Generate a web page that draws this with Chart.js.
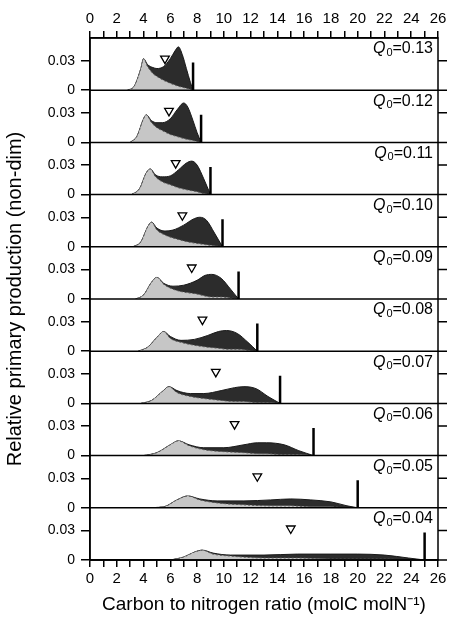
<!DOCTYPE html>
<html>
<head>
<meta charset="utf-8">
<script src="https://cdn.jsdelivr.net/npm/chart.js@4"></script>
<style>
  body { margin: 0; background: #fff; }
  #wrap { width: 474px; height: 641px; }
</style>
</head>
<body>
<div id="wrap"><canvas id="cnChart" width="474" height="641"></canvas></div>
<script>
// Q0 of each panel, top to bottom
const q0Labels = ['0.13', '0.12', '0.11', '0.10', '0.09', '0.08', '0.07', '0.06', '0.05', '0.04'];

// C:N positions of each panel's curve points
const cnA = [2.8, 3.3, 3.8, 4.0, 4.3, 4.7, 5.0, 5.5, 6.0, 6.4, 6.6, 6.9, 7.2, 7.5, 7.7];
const cnB = [3.0, 3.5, 4.0, 4.2, 4.6, 5.0, 5.4, 6.0, 6.5, 7.0, 7.3, 7.7, 8.0, 8.3];
const cnC = [3.1, 3.7, 4.2, 4.5, 4.9, 5.4, 6.0, 6.6, 7.2, 7.6, 8.0, 8.5, 9.0];
const cnD = [3.2, 3.8, 4.3, 4.6, 5.0, 5.6, 6.2, 7.0, 7.7, 8.2, 8.7, 9.3, 9.9];
const cnE = [3.4, 4.0, 4.6, 5.0, 5.5, 6.2, 7.0, 8.0, 8.6, 9.1, 9.8, 10.5, 11.1];
const cnF = [3.6, 4.3, 5.0, 5.5, 6.0, 6.8, 7.8, 8.8, 9.6, 10.2, 11.0, 11.8, 12.5];
const cnG = [3.8, 4.6, 5.4, 5.9, 6.5, 7.5, 8.5, 9.8, 10.8, 11.5, 12.4, 13.3, 14.2];
const cnH = [4.0, 5.0, 6.0, 6.6, 7.4, 8.5, 10.0, 11.5, 12.5, 13.2, 14.5, 15.6, 16.7];
const cnI = [4.0, 5.5, 6.5, 7.3, 8.2, 9.5, 11.5, 13.5, 15.0, 16.5, 18.0, 19.2, 20.0];
const cnJ = [6.0, 7.0, 7.8, 8.4, 9.2, 10.5, 13.0, 15.5, 18.0, 20.0, 22.0, 23.8, 25.0];

// total production (dark) per panel
const totalA = [0, 0.004, 0.022, 0.032, 0.026, 0.023, 0.022, 0.024, 0.032, 0.041, 0.044, 0.036, 0.022, 0.008, 0];
const totalB = [0, 0.006, 0.024, 0.028, 0.022, 0.020, 0.020, 0.024, 0.033, 0.040, 0.036, 0.022, 0.010, 0];
const totalC = [0, 0.006, 0.022, 0.026, 0.020, 0.018, 0.019, 0.025, 0.032, 0.034, 0.030, 0.016, 0];
const totalD = [0, 0.005, 0.020, 0.025, 0.019, 0.016, 0.017, 0.022, 0.028, 0.030, 0.027, 0.014, 0];
const totalE = [0, 0.004, 0.017, 0.022, 0.016, 0.013, 0.014, 0.019, 0.024, 0.025, 0.021, 0.010, 0];
const totalF = [0, 0.004, 0.014, 0.020, 0.015, 0.011, 0.012, 0.016, 0.020, 0.021, 0.018, 0.009, 0];
const totalG = [0, 0.003, 0.012, 0.017, 0.013, 0.010, 0.010, 0.013, 0.016, 0.017, 0.015, 0.007, 0];
const totalH = [0, 0.003, 0.011, 0.015, 0.011, 0.008, 0.008, 0.011, 0.013, 0.013, 0.011, 0.005, 0];
const totalI = [0, 0.001, 0.008, 0.012, 0.009, 0.007, 0.007, 0.008, 0.009, 0.008, 0.006, 0.002, 0];
const totalJ = [0, 0.003, 0.008, 0.010, 0.007, 0.005, 0.005, 0.006, 0.006, 0.006, 0.005, 0.002, 0];

// light component per panel
const lightA = [0, 0.004, 0.022, 0.032, 0.024, 0.017, 0.014, 0.010, 0.007, 0.005, 0.004, 0.003, 0.002, 0.001, 0];
const lightB = [0, 0.006, 0.024, 0.028, 0.020, 0.015, 0.012, 0.008, 0.006, 0.004, 0.003, 0.002, 0.001, 0];
const lightC = [0, 0.006, 0.022, 0.026, 0.018, 0.013, 0.010, 0.007, 0.005, 0.004, 0.003, 0.001, 0];
const lightD = [0, 0.005, 0.020, 0.025, 0.017, 0.012, 0.009, 0.006, 0.004, 0.003, 0.002, 0.001, 0];
const lightE = [0, 0.004, 0.017, 0.022, 0.015, 0.010, 0.007, 0.005, 0.003, 0.002, 0.002, 0.001, 0];
const lightF = [0, 0.004, 0.014, 0.020, 0.013, 0.009, 0.006, 0.004, 0.003, 0.002, 0.002, 0.001, 0];
const lightG = [0, 0.003, 0.012, 0.017, 0.011, 0.007, 0.005, 0.003, 0.002, 0.002, 0.001, 0.001, 0];
const lightH = [0, 0.003, 0.011, 0.015, 0.010, 0.006, 0.004, 0.003, 0.002, 0.002, 0.001, 0.001, 0];
const lightI = [0, 0.001, 0.008, 0.012, 0.008, 0.005, 0.003, 0.002, 0.002, 0.001, 0.001, 0, 0];
const lightJ = [0, 0.003, 0.008, 0.010, 0.006, 0.004, 0.002, 0.002, 0.001, 0.001, 0.001, 0, 0];

// maximum C:N (bar) and mean C:N (triangle)
const maxCN = [7.7, 8.3, 9.0, 9.9, 11.1, 12.5, 14.2, 16.7, 20.0, 25.0];
const meanCN = [5.6, 5.9, 6.4, 6.9, 7.6, 8.4, 9.4, 10.8, 12.5, 15.0];
const barHeight = 0.028;
const markerLevel = 0.032;
const yTickValues = [0, 0.03];

const cnSets = [cnA, cnB, cnC, cnD, cnE, cnF, cnG, cnH, cnI, cnJ];
const totalSets = [totalA, totalB, totalC, totalD, totalE, totalF, totalG, totalH, totalI, totalJ];
const lightSets = [lightA, lightB, lightC, lightD, lightE, lightF, lightG, lightH, lightI, lightJ];

const FONT = "'Liberation Sans', Arial, sans-serif";
const toPts = (xs, ys) => xs.map((x, i) => ({ x: x, y: ys[i] }));

const datasets = [];
const scales = {
    x: {
        type: 'linear', position: 'bottom', min: 0, max: 26,
        ticks: { stepSize: 1, color: '#000', font: { family: FONT, size: 15 },
                 callback: v => (v % 2 === 0 ? v : ''), maxRotation: 0, autoSkip: false },
        grid: { drawOnChartArea: false, color: '#000', tickLength: 7, lineWidth: 1.5 },
        border: { color: '#000', width: 1.5 },
        title: { display: true, text: 'Carbon to nitrogen ratio (molC molN\u207B\u00B9)',
                 color: '#000', font: { family: FONT, size: 19 }, padding: { top: 4, bottom: 0 } },
        afterFit: s => { s.height = 56; }
    },
    xTop: {
        type: 'linear', position: 'top', min: 0, max: 26,
        ticks: { stepSize: 1, color: '#000', font: { family: FONT, size: 15 },
                 callback: v => (v % 2 === 0 ? v : ''), maxRotation: 0, autoSkip: false },
        grid: { drawOnChartArea: false, color: '#000', tickLength: 7, lineWidth: 1.5 },
        border: { color: '#000', width: 1.5 },
        afterFit: s => { s.height = 38; }
    }
};

// stacked axes are laid out bottom-up, so add them from the last panel
for (let i = q0Labels.length - 1; i >= 0; i--) {
    scales['y' + i] = {
        type: 'linear', position: 'left', stack: 'panels', stackWeight: 1,
        min: 0, max: 0.053,
        afterBuildTicks: s => { s.ticks = yTickValues.map(v => ({ value: v })); },
        ticks: { color: '#000', font: { family: FONT, size: 14 }, padding: 6,
                 callback: v => (v === 0 ? '0' : v.toFixed(2)) },
        grid: { drawOnChartArea: false, color: '#000', tickLength: 9, lineWidth: 1.5 },
        border: { color: '#000', width: 1.5 },
        afterFit: s => { s.width = 90; }
    };
}

q0Labels.forEach((q, i) => {
    const yId = 'y' + i;
    datasets.push({
        data: toPts(cnSets[i], lightSets[i]), yAxisID: yId, xAxisID: 'x', order: 2,
        borderColor: '#555', borderWidth: 1, borderDash: [2, 2], backgroundColor: '#c6c6c6',
        fill: 'origin', pointRadius: 0, cubicInterpolationMode: 'monotone'
    });
    datasets.push({
        data: toPts(cnSets[i], totalSets[i]), yAxisID: yId, xAxisID: 'x', order: 3,
        borderColor: '#1a1a1a', borderWidth: 1, backgroundColor: '#2c2c2c',
        fill: 'origin', pointRadius: 0, cubicInterpolationMode: 'monotone'
    });
    datasets.push({
        data: [{ x: maxCN[i], y: 0 }, { x: maxCN[i], y: barHeight }], yAxisID: yId, xAxisID: 'x', order: 1,
        borderColor: '#000', borderWidth: 2.5, pointRadius: 0, fill: false
    });
    datasets.push({
        data: [{ x: meanCN[i], y: markerLevel }], yAxisID: yId, xAxisID: 'x', order: 0,
        showLine: false, pointStyle: 'triangle', rotation: 180, pointRadius: 5,
        borderColor: '#000', borderWidth: 1.3, backgroundColor: '#fff'
    });
});

// panel frames, right-side ticks, Q0 labels and y title
const panelDecor = {
    id: 'panelDecor',
    afterDraw(chart) {
        const ctx = chart.ctx, a = chart.chartArea;
        ctx.save();
        ctx.strokeStyle = '#000';
        ctx.lineWidth = 1.5;
        ctx.strokeRect(a.left, a.top, a.right - a.left, a.bottom - a.top);
        q0Labels.forEach((q, i) => {
            const s = chart.scales['y' + i];
            ctx.beginPath();
            ctx.moveTo(a.left, s.bottom); ctx.lineTo(a.right, s.bottom);
            yTickValues.forEach(v => {
                const py = s.getPixelForValue(v);
                ctx.moveTo(a.right, py); ctx.lineTo(a.right + 9, py);
            });
            ctx.stroke();
            const ty = s.top + 11;
            ctx.fillStyle = '#000';
            ctx.textBaseline = 'middle';
            ctx.textAlign = 'right';
            ctx.font = '16px ' + FONT;
            const rest = '=' + q;
            const rx = a.right - 5;
            ctx.fillText(rest, rx, ty);
            const rw = ctx.measureText(rest).width;
            ctx.font = '11px ' + FONT;
            ctx.fillText('0', rx - rw, ty + 4);
            const sw = ctx.measureText('0').width;
            ctx.font = 'italic 16px ' + FONT;
            ctx.fillText('Q', rx - rw - sw - 1, ty);
        });
        ctx.translate(15, (a.top + a.bottom) / 2);
        ctx.rotate(-Math.PI / 2);
        ctx.textAlign = 'center';
        ctx.textBaseline = 'middle';
        ctx.font = '20px ' + FONT;
        ctx.fillText('Relative primary production (non-dim)', 0, 0);
        ctx.restore();
    }
};

new Chart(document.getElementById('cnChart'), {
    type: 'line',
    data: { datasets: datasets },
    options: {
        responsive: false,
        animation: false,
        layout: { padding: { right: 36, left: 0, top: 0, bottom: 25 } },
        plugins: { legend: { display: false }, tooltip: { enabled: false } },
        scales: scales
    },
    plugins: [panelDecor]
});
</script>
</body>
</html>
